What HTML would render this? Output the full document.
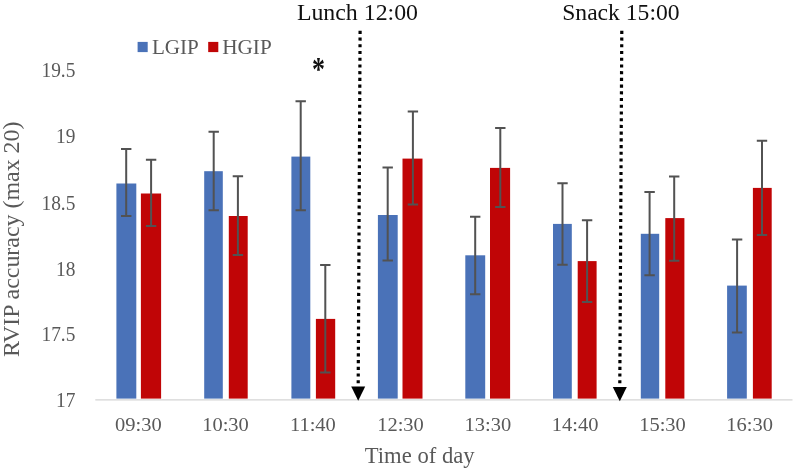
<!DOCTYPE html>
<html><head><meta charset="utf-8"><title>RVIP accuracy</title>
<style>
html,body{margin:0;padding:0;background:#fff;}
body{width:795px;height:470px;overflow:hidden;}
svg{display:block;will-change:transform;opacity:0.999;font-family:"Liberation Serif","Times New Roman",serif;}
.tick{font-size:19.3px;fill:#595959;}
.ytick{font-size:19.9px;fill:#595959;}
.ttl{font-size:23.5px;fill:#111;}
.axt{font-size:23px;fill:#595959;}
.leg{font-size:20.3px;fill:#595959;}
</style></head><body>
<svg width="795" height="470" viewBox="0 0 795 470">
<rect width="795" height="470" fill="#fff"/>
<line x1="95.3" y1="399.8" x2="792.5" y2="399.8" stroke="#d4d4d4" stroke-width="1.2"/>
<rect x="116.4" y="183.5" width="19.9" height="215.1" fill="#4a72b8"/>
<rect x="140.9" y="193.5" width="20.2" height="205.1" fill="#c00506"/>
<rect x="204.2" y="171.2" width="18.6" height="227.4" fill="#4a72b8"/>
<rect x="228.8" y="216.0" width="18.9" height="182.6" fill="#c00506"/>
<rect x="291.4" y="156.6" width="18.9" height="242.0" fill="#4a72b8"/>
<rect x="315.9" y="318.9" width="19.3" height="79.7" fill="#c00506"/>
<rect x="377.9" y="215.0" width="19.8" height="183.6" fill="#4a72b8"/>
<rect x="402.5" y="158.6" width="20.0" height="240.0" fill="#c00506"/>
<rect x="465.3" y="255.3" width="19.9" height="143.3" fill="#4a72b8"/>
<rect x="490.0" y="167.9" width="20.1" height="230.7" fill="#c00506"/>
<rect x="553.0" y="223.9" width="18.8" height="174.7" fill="#4a72b8"/>
<rect x="577.7" y="261.1" width="18.9" height="137.5" fill="#c00506"/>
<rect x="640.8" y="233.8" width="18.4" height="164.8" fill="#4a72b8"/>
<rect x="665.3" y="218.1" width="19.1" height="180.5" fill="#c00506"/>
<rect x="727.1" y="285.6" width="19.7" height="113.0" fill="#4a72b8"/>
<rect x="752.9" y="187.9" width="18.8" height="210.7" fill="#c00506"/>
<path d="M121.0 149.1H131.4M126.2 149.1V216.0M121.0 216.0H131.4" stroke="#525252" stroke-width="2.0" fill="none"/>
<path d="M145.9 159.7H156.3M151.1 159.7V226.0M145.9 226.0H156.3" stroke="#525252" stroke-width="2.0" fill="none"/>
<path d="M208.5 131.7H218.9M213.7 131.7V210.2M208.5 210.2H218.9" stroke="#525252" stroke-width="2.0" fill="none"/>
<path d="M232.7 176.3H243.1M237.9 176.3V255.0M232.7 255.0H243.1" stroke="#525252" stroke-width="2.0" fill="none"/>
<path d="M295.5 101.3H305.9M300.7 101.3V210.2M295.5 210.2H305.9" stroke="#525252" stroke-width="2.0" fill="none"/>
<path d="M320.1 264.9H330.5M325.3 264.9V372.5M320.1 372.5H330.5" stroke="#525252" stroke-width="2.0" fill="none"/>
<path d="M382.5 167.5H392.9M387.7 167.5V260.4M382.5 260.4H392.9" stroke="#525252" stroke-width="2.0" fill="none"/>
<path d="M407.7 111.6H418.1M412.9 111.6V204.4M407.7 204.4H418.1" stroke="#525252" stroke-width="2.0" fill="none"/>
<path d="M470.0 216.8H480.4M475.2 216.8V294.3M470.0 294.3H480.4" stroke="#525252" stroke-width="2.0" fill="none"/>
<path d="M495.1 128.1H505.5M500.3 128.1V206.9M495.1 206.9H505.5" stroke="#525252" stroke-width="2.0" fill="none"/>
<path d="M557.3 183.2H567.7M562.5 183.2V264.8M557.3 264.8H567.7" stroke="#525252" stroke-width="2.0" fill="none"/>
<path d="M581.9 220.3H592.3M587.1 220.3V302.1M581.9 302.1H592.3" stroke="#525252" stroke-width="2.0" fill="none"/>
<path d="M644.4 192.0H654.8M649.6 192.0V275.3M644.4 275.3H654.8" stroke="#525252" stroke-width="2.0" fill="none"/>
<path d="M669.0 176.6H679.4M674.2 176.6V260.7M669.0 260.7H679.4" stroke="#525252" stroke-width="2.0" fill="none"/>
<path d="M731.9 239.4H742.3M737.1 239.4V332.4M731.9 332.4H742.3" stroke="#525252" stroke-width="2.0" fill="none"/>
<path d="M756.8 140.8H767.2M762.0 140.8V235.0M756.8 235.0H767.2" stroke="#525252" stroke-width="2.0" fill="none"/>
<line x1="360.1" y1="30.8" x2="358.2" y2="385" stroke="#000" stroke-width="3.2" stroke-dasharray="3.1 3.62"/>
<path d="M351.2 386.6H365.2L358.2 400.8Z" fill="#000"/>
<line x1="621.8" y1="30.8" x2="619.8" y2="385" stroke="#000" stroke-width="3.2" stroke-dasharray="3.1 3.62"/>
<path d="M612.8 387.1H626.8L619.8 401.3Z" fill="#000"/>
<text class="ytick" transform="translate(75.4 77.1) scale(0.975 1)" text-anchor="end">19.5</text>
<text class="ytick" transform="translate(75.4 143.0) scale(0.975 1)" text-anchor="end">19</text>
<text class="ytick" transform="translate(75.4 209.5) scale(0.975 1)" text-anchor="end">18.5</text>
<text class="ytick" transform="translate(75.4 275.5) scale(0.975 1)" text-anchor="end">18</text>
<text class="ytick" transform="translate(75.4 340.9) scale(0.975 1)" text-anchor="end">17.5</text>
<text class="ytick" transform="translate(75.4 407.1) scale(0.975 1)" text-anchor="end">17</text>
<text class="tick" transform="translate(138.29999999999998 430.8) scale(1.062 1)" text-anchor="middle">09:30</text>
<text class="tick" transform="translate(225.5 430.8) scale(1.062 1)" text-anchor="middle">10:30</text>
<text class="tick" transform="translate(312.9 430.8) scale(1.062 1)" text-anchor="middle">11:40</text>
<text class="tick" transform="translate(400.5 430.8) scale(1.062 1)" text-anchor="middle">12:30</text>
<text class="tick" transform="translate(487.9 430.8) scale(1.062 1)" text-anchor="middle">13:30</text>
<text class="tick" transform="translate(575.1 430.8) scale(1.062 1)" text-anchor="middle">14:40</text>
<text class="tick" transform="translate(662.5 430.8) scale(1.062 1)" text-anchor="middle">15:30</text>
<text class="tick" transform="translate(749.7 430.8) scale(1.062 1)" text-anchor="middle">16:30</text>
<text class="axt" transform="translate(419.7 462.9) scale(0.985 1)" text-anchor="middle">Time of day</text>
<text class="axt" transform="translate(19.2 239.3) rotate(-90) scale(1.04 1.02)" text-anchor="middle">RVIP accuracy (max 20)</text>
<text class="ttl" transform="translate(296.9 19.5) scale(1.015 1)" text-anchor="start">Lunch 12:00</text>
<text class="ttl" transform="translate(562.2 19.5) scale(1.005 1)" text-anchor="start">Snack 15:00</text>
<rect x="137.6" y="41.9" width="10.1" height="10.2" fill="#4a72b8"/>
<text class="leg" transform="translate(151.9 54.3) scale(1.04 1)" text-anchor="start">LGIP</text>
<rect x="208.2" y="41.9" width="10.1" height="10.2" fill="#c00506"/>
<text class="leg" transform="translate(222.2 54.3) scale(1.045 1)" text-anchor="start">HGIP</text>
<text transform="translate(318.6 79.7) scale(0.96 1.22)" text-anchor="middle" font-size="27" font-weight="bold" fill="#111">*</text>
</svg>
</body></html>
